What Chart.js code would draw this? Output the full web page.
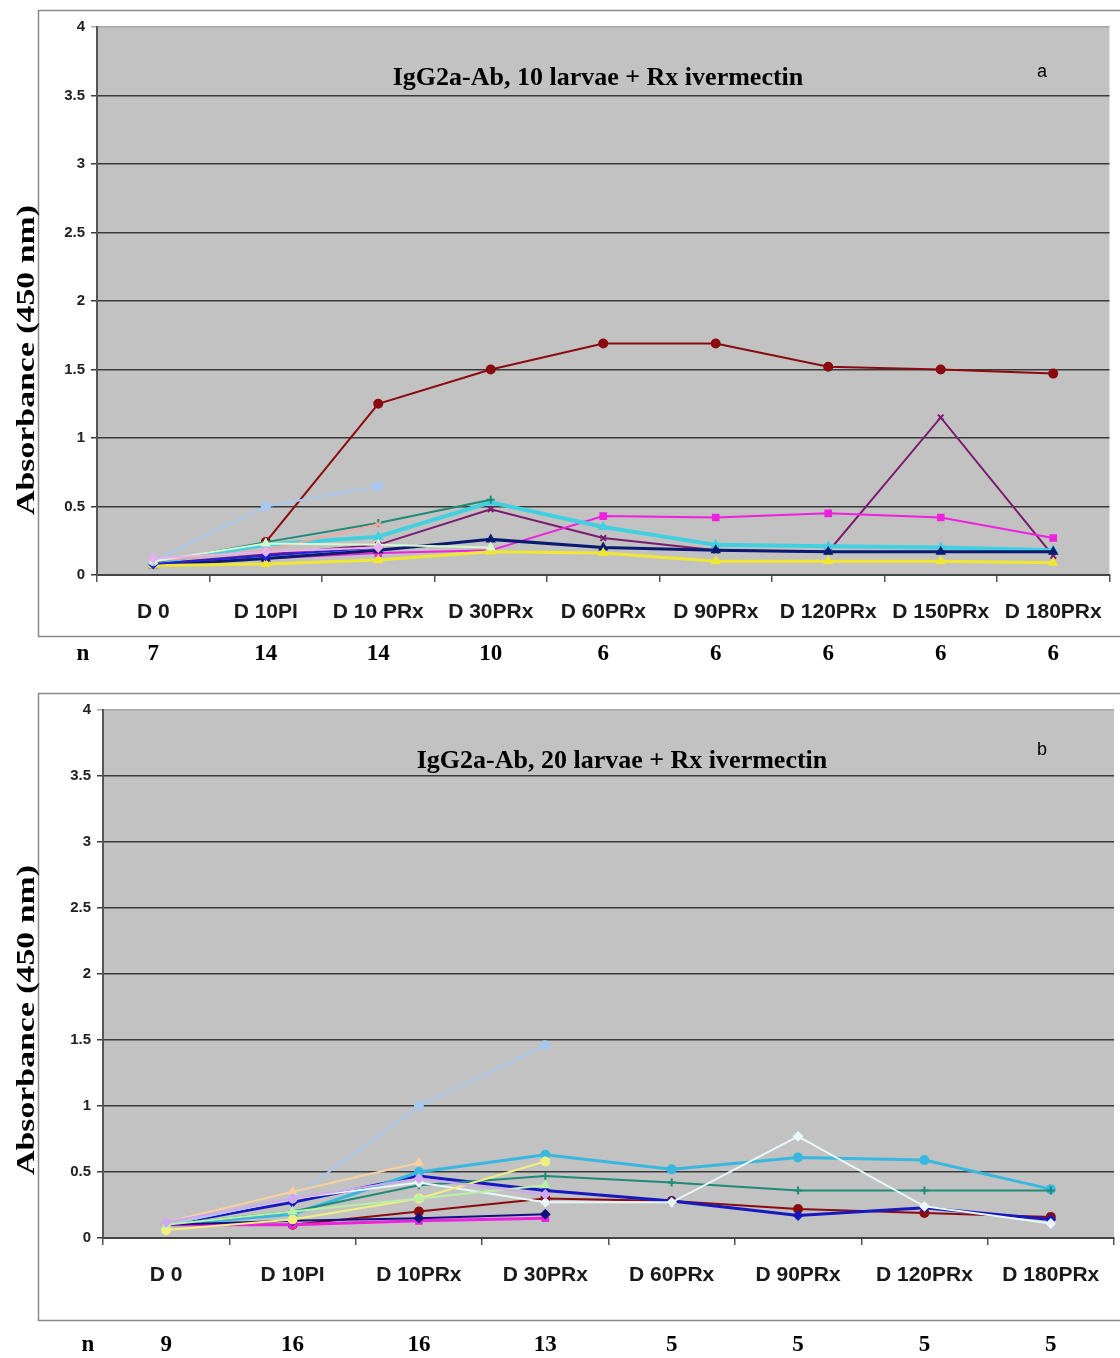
<!DOCTYPE html>
<html>
<head>
<meta charset="utf-8">
<script src="https://cdn.jsdelivr.net/npm/chart.js@4/dist/chart.umd.min.js"></script>
<style>
  body { margin: 0; background: #fff; }
  .box { position: absolute; left: 0; width: 1120px; }
  #boxA { top: 0; height: 680px; }
  #boxB { top: 680px; height: 678px; }
</style>
</head>
<body>
<div class="box" id="boxA"><canvas id="chartA" width="1120" height="680"></canvas></div>
<div class="box" id="boxB"><canvas id="chartB" width="1120" height="678"></canvas></div>
<script>
// ---- chart a: 10 larvae ----
const daysA = ['D 0', 'D 10PI', 'D 10 PRx', 'D 30PRx', 'D 60PRx', 'D 90PRx', 'D 120PRx', 'D 150PRx', 'D 180PRx'];
const nA = [7, 14, 14, 10, 6, 6, 6, 6, 6];
const redA = [null, 0.24, 1.25, 1.5, 1.69, 1.69, 1.52, 1.5, 1.47];
const purpleA = [0.08, 0.15, 0.22, 0.48, 0.27, 0.18, 0.17, 1.15, 0.14];
const magentaA = [0.08, 0.12, 0.16, 0.18, 0.43, 0.42, 0.45, 0.42, 0.27];
const cyanA = [0.09, 0.22, 0.28, 0.53, 0.35, 0.22, 0.21, 0.2, 0.18];
const tealA = [0.09, 0.24, 0.38, 0.55, null, null, null, null, null];
const navyA = [0.07, 0.12, 0.18, 0.26, 0.2, 0.18, 0.17, 0.17, 0.17];
const yellowA = [0.07, 0.08, 0.11, 0.17, 0.16, 0.1, 0.1, 0.1, 0.09];
const lightBlueA = [0.1, 0.5, 0.65, null, null, null, null, null, null];
const salmonA = [0.1, 0.18, 0.37, null, null, null, null, null, null];
const mintA = [0.1, 0.23, 0.22, 0.2, null, null, null, null, null];
const blueA = [0.08, 0.14, 0.2, null, null, null, null, null, null];
const lavenderA = [0.12, 0.17, 0.2, null, null, null, null, null, null];

// ---- chart b: 20 larvae ----
const daysB = ['D 0', 'D 10PI', 'D 10PRx', 'D 30PRx', 'D 60PRx', 'D 90PRx', 'D 120PRx', 'D 180PRx'];
const nB = [9, 16, 16, 13, 5, 5, 5, 5];
const redB = [0.1, 0.1, 0.2, 0.3, 0.28, 0.22, 0.19, 0.16];
const blueB = [0.1, 0.27, 0.47, 0.36, 0.28, 0.17, 0.23, 0.14];
const cyanB = [0.1, 0.18, 0.5, 0.63, 0.52, 0.61, 0.59, 0.37];
const tealB = [0.1, 0.2, 0.4, 0.47, 0.42, 0.36, 0.36, 0.36];
const whiteB = [0.1, 0.3, 0.42, 0.27, 0.27, 0.77, 0.24, 0.11];
const magentaB = [0.1, 0.1, 0.13, 0.15, null, null, null, null];
const lightBlueB = [0.1, 0.3, 1.0, 1.46, null, null, null, null];
const peachB = [0.12, 0.35, 0.57, null, null, null, null, null];
const yellowB = [0.06, 0.14, 0.3, 0.58, null, null, null, null];
const greenB = [0.1, 0.2, 0.3, 0.4, null, null, null, null];
const navyB = [0.1, 0.13, 0.15, 0.18, null, null, null, null];
const lavenderB = [0.12, 0.3, 0.45, 0.33, null, null, null, null];

function series(data, color, style, width) {
  return {
    data: data,
    borderColor: color,
    backgroundColor: color,
    borderWidth: width || 2,
    pointStyle: style,
    pointRadius: 4,
    pointBorderWidth: 2,
    spanGaps: false,
    tension: 0
  };
}

// draws the frame, plot fill, title, letter, y title and the n row
const extras = {
  id: 'extras',
  beforeDraw(chart, args, o) {
    const ctx = chart.ctx, a = chart.chartArea;
    ctx.save();
    ctx.strokeStyle = '#8a8a8a';
    ctx.lineWidth = 1.5;
    ctx.strokeRect(38.5, o.frameTop + 0.5, 1100, o.frameBottom - o.frameTop);
    ctx.fillStyle = '#c2c2c2';
    ctx.fillRect(a.left, a.top, a.right - a.left, a.bottom - a.top);
    ctx.restore();
  },
  afterDraw(chart, args, o) {
    const ctx = chart.ctx, x = chart.scales.x;
    ctx.save();
    ctx.fillStyle = '#000';
    ctx.textAlign = 'center';
    ctx.textBaseline = 'middle';
    ctx.font = 'bold 26px "Liberation Serif", "Times New Roman", serif';
    ctx.fillText(o.title, o.titleX, o.titleY);
    ctx.font = '18px "Liberation Sans", Arial, sans-serif';
    ctx.fillText(o.letter, 1042, o.letterY);
    // n row
    ctx.font = 'bold 23px "Liberation Serif", "Times New Roman", serif';
    ctx.fillText('n', o.nX, o.nY);
    o.n.forEach((v, i) => ctx.fillText(String(v), x.getPixelForValue(i), o.nY));
    // y title, stretched along its length like the scan
    ctx.translate(27, o.yTitleMid);
    ctx.rotate(-Math.PI / 2);
    ctx.scale(1.3, 1);
    ctx.font = 'bold 26px "Liberation Serif", "Times New Roman", serif';
    ctx.fillText('Absorbance (450 nm)', 0, 0);
    ctx.restore();
  }
};

function makeChart(id, days, sets, cfg) {
  return new Chart(document.getElementById(id), {
    type: 'line',
    data: { labels: days, datasets: sets },
    options: {
      responsive: false,
      animation: false,
      layout: { padding: { left: 0, right: cfg.padRight, top: cfg.padTop, bottom: cfg.padBottom } },
      plugins: {
        legend: { display: false },
        tooltip: { enabled: false },
        extras: cfg.extras
      },
      scales: {
        x: {
          offset: true,
          afterFit: s => { s.height = 60; },
          grid: { display: true, drawOnChartArea: false, drawTicks: true, offset: true, tickLength: 7, color: '#555', lineWidth: 1.5 },
          border: { display: true, color: '#444', width: 2 },
          ticks: {
            autoSkip: false, maxRotation: 0, minRotation: 0, padding: 18,
            color: '#1a1a1a',
            font: { family: '"Liberation Sans", Arial, sans-serif', weight: 'bold', size: 21 }
          }
        },
        y: {
          min: 0, max: 4,
          afterFit: s => { s.width = cfg.yWidth; },
          grid: {
            color: c => (c.tick && c.tick.value === 4 ? '#a8a8a8' : '#3a3a3a'),
            lineWidth: 1.5, tickLength: 6
          },
          border: { display: true, color: '#555', width: 2 },
          ticks: {
            stepSize: 0.5, padding: 6, color: '#222',
            callback: v => String(v),
            font: { family: '"Liberation Sans", Arial, sans-serif', weight: 'bold', size: 15 }
          }
        }
      }
    },
    plugins: [extras]
  });
}

makeChart('chartA', daysA, [
  series(lavenderA, '#e8b0f0', 'rectRot', 2),
  series(mintA, '#d8f8d0', 'triangle', 2),
  series(salmonA, '#f0a8a0', 'crossRot', 2),
  series(lightBlueA, '#a8c8f0', 'circle', 2),
  series(blueA, '#2020e0', 'rectRot', 2),
  series(yellowA, '#f0e830', 'triangle', 3),
  series(navyA, '#0a1a70', 'triangle', 3),
  series(tealA, '#1e8a78', 'cross', 2),
  series(cyanA, '#40d0e0', 'triangle', 4),
  series(magentaA, '#f020e0', 'rect', 2),
  series(purpleA, '#7a1a70', 'crossRot', 2),
  series(redA, '#8a0a10', 'circle', 2)
], {
  padRight: 2, padTop: 27, padBottom: 45, yWidth: 97,
  extras: {
    frameTop: 10, frameBottom: 636,
    title: 'IgG2a-Ab, 10 larvae + Rx ivermectin', titleX: 598, titleY: 78,
    letter: 'a', letterY: 72,
    n: nA, nX: 83, nY: 654, yTitleMid: 360
  }
});

makeChart('chartB', daysB, [
  series(lavenderB, '#d0a8f0', 'rectRot', 2),
  series(greenB, '#b8f0a8', 'triangle', 2),
  series(peachB, '#f8d0a0', 'triangle', 2),
  series(yellowB, '#f0f080', 'circle', 2),
  series(lightBlueB, '#a8c8f0', 'circle', 2),
  series(navyB, '#101080', 'rectRot', 2),
  series(magentaB, '#f020e0', 'rect', 3),
  series(whiteB, '#e8f8f8', 'rectRot', 2),
  series(tealB, '#1e8a78', 'cross', 2),
  series(cyanB, '#38b8e0', 'circle', 3),
  series(blueB, '#1818c0', 'rectRot', 3),
  series(redB, '#8a0a10', 'circle', 2)
], {
  padRight: 0, padTop: 30, padBottom: 60, yWidth: 103,
  extras: {
    frameTop: 13, frameBottom: 640,
    title: 'IgG2a-Ab, 20 larvae + Rx ivermectin', titleX: 622, titleY: 81,
    letter: 'b', letterY: 70,
    n: nB, nX: 88, nY: 665, yTitleMid: 340
  }
});
</script>
</body>
</html>
